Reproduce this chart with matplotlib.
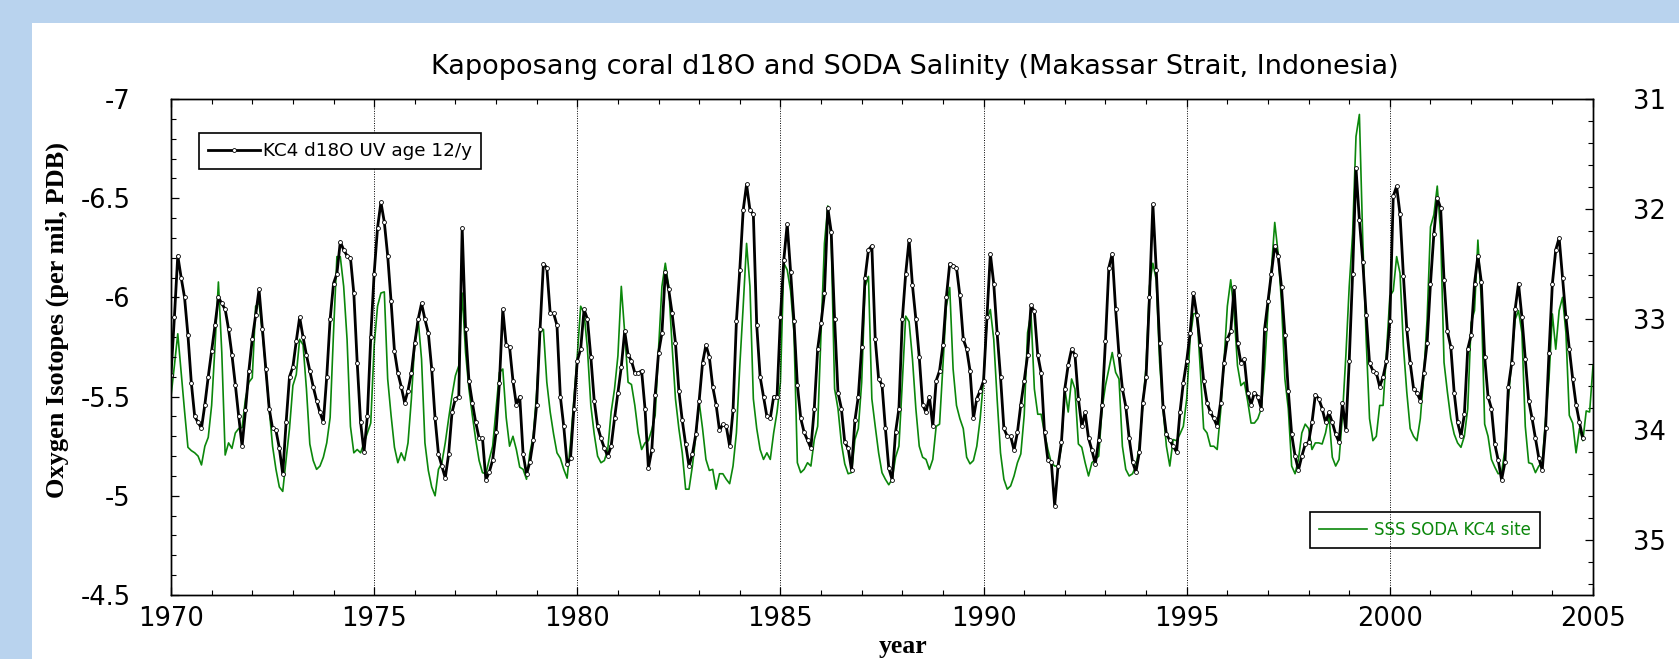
import numpy as np
import matplotlib
matplotlib.use('Agg')
import matplotlib.pyplot as plt
from matplotlib.ticker import MultipleLocator
from matplotlib.patches import Rectangle

plt.rcParams['font.family'] = ['DejaVu Sans']
plt.rcParams['axes.unicode_minus'] = False

# monthly series starting Jan 1970, one row per year
start_year = 1970

d18o = [
    -5.61, -5.90, -6.21, -6.10, -6.00, -5.81, -5.57, -5.40, -5.37, -5.34, -5.46, -5.60,
    -5.73, -5.86, -6.00, -5.97, -5.94, -5.84, -5.71, -5.56, -5.40, -5.25, -5.43, -5.63,
    -5.79, -5.91, -6.04, -5.84, -5.64, -5.44, -5.34, -5.33, -5.24, -5.11, -5.37, -5.60,
    -5.65, -5.78, -5.90, -5.80, -5.71, -5.63, -5.55, -5.48, -5.42, -5.37, -5.60, -5.89,
    -6.07, -6.12, -6.28, -6.24, -6.21, -6.20, -6.02, -5.67, -5.37, -5.22, -5.40, -5.80,
    -6.12, -6.35, -6.48, -6.38, -6.21, -5.98, -5.73, -5.62, -5.55, -5.47, -5.53, -5.62,
    -5.77, -5.89, -5.97, -5.89, -5.82, -5.64, -5.39, -5.21, -5.15, -5.09, -5.21, -5.42,
    -5.49, -5.50, -6.35, -5.84, -5.58, -5.47, -5.37, -5.29, -5.29, -5.08, -5.12, -5.18,
    -5.32, -5.57, -5.94, -5.76, -5.75, -5.58, -5.46, -5.50, -5.21, -5.11, -5.17, -5.28,
    -5.46, -5.84, -6.17, -6.15, -5.92, -5.92, -5.86, -5.50, -5.35, -5.16, -5.19, -5.44,
    -5.68, -5.74, -5.94, -5.89, -5.70, -5.48, -5.35, -5.29, -5.24, -5.20, -5.25, -5.39,
    -5.52, -5.65, -5.83, -5.71, -5.68, -5.62, -5.62, -5.63, -5.44, -5.14, -5.23, -5.51,
    -5.72, -5.82, -6.13, -6.04, -5.92, -5.77, -5.53, -5.38, -5.26, -5.15, -5.21, -5.31,
    -5.48, -5.67, -5.76, -5.70, -5.55, -5.46, -5.33, -5.36, -5.35, -5.25, -5.43, -5.88,
    -6.14, -6.44, -6.57, -6.44, -6.42, -5.86, -5.60, -5.50, -5.40, -5.39, -5.50, -5.50,
    -5.90, -6.19, -6.37, -6.13, -5.88, -5.56, -5.39, -5.32, -5.28, -5.24, -5.44, -5.74,
    -5.87, -6.02, -6.45, -6.33, -5.89, -5.52, -5.44, -5.27, -5.24, -5.13, -5.38, -5.50,
    -5.75, -6.10, -6.24, -6.26, -5.79, -5.59, -5.56, -5.34, -5.14, -5.08, -5.32, -5.44,
    -5.89, -6.12, -6.29, -6.06, -5.89, -5.70, -5.46, -5.42, -5.50, -5.35, -5.58, -5.63,
    -5.76, -6.00, -6.17, -6.16, -6.15, -6.01, -5.79, -5.74, -5.63, -5.39, -5.49, -5.53,
    -5.58, -5.90, -6.22, -6.07, -5.82, -5.60, -5.34, -5.30, -5.30, -5.23, -5.32, -5.46,
    -5.58, -5.71, -5.96, -5.93, -5.71, -5.62, -5.32, -5.18, -5.17, -4.95, -5.15, -5.27,
    -5.54, -5.66, -5.74, -5.71, -5.49, -5.35, -5.42, -5.29, -5.23, -5.16, -5.28, -5.46,
    -5.78, -6.15, -6.22, -5.94, -5.71, -5.54, -5.45, -5.29, -5.17, -5.12, -5.22, -5.47,
    -5.60, -6.00, -6.47, -6.14, -5.77, -5.45, -5.31, -5.28, -5.25, -5.22, -5.42, -5.57,
    -5.68, -5.82, -6.02, -5.91, -5.76, -5.58, -5.47, -5.42, -5.39, -5.35, -5.47, -5.67,
    -5.79, -5.83, -6.05, -5.77, -5.67, -5.69, -5.52, -5.46, -5.52, -5.50, -5.44, -5.84,
    -5.98, -6.12, -6.26, -6.21, -6.05, -5.81, -5.53, -5.31, -5.20, -5.13, -5.20, -5.26,
    -5.27, -5.37, -5.51, -5.49, -5.44, -5.37, -5.42, -5.37, -5.31, -5.27, -5.47, -5.33,
    -5.68, -6.12, -6.65, -6.39, -6.18, -5.91, -5.67, -5.63, -5.62, -5.55, -5.60, -5.68,
    -5.88, -6.51, -6.56, -6.42, -6.11, -5.84, -5.67, -5.54, -5.52, -5.48, -5.62, -5.77,
    -6.07, -6.32, -6.50, -6.45, -6.09, -5.83, -5.75, -5.52, -5.37, -5.30, -5.41, -5.74,
    -5.81, -6.07, -6.21, -6.08, -5.70, -5.50, -5.44, -5.26, -5.18, -5.08, -5.17, -5.55,
    -5.67, -5.94, -6.07, -5.90, -5.69, -5.48, -5.39, -5.29, -5.19, -5.13, -5.34, -5.72,
    -6.07, -6.24, -6.30, -6.10, -5.90, -5.74, -5.59, -5.46, -5.37, -5.29,
]

sss = [
    33.70, 33.42, 33.13, 33.48, 33.83, 34.16, 34.19, 34.21, 34.24, 34.32, 34.15, 34.07,
    33.78, 33.24, 32.66, 33.30, 34.23, 34.12, 34.17, 34.03, 33.99, 33.98, 33.72, 33.57,
    33.53, 32.88, 32.85, 33.12, 33.45, 33.81, 34.15, 34.36, 34.52, 34.56, 34.27, 33.99,
    33.60, 33.50, 33.18, 33.23, 33.63, 34.13, 34.28, 34.36, 34.33, 34.25, 34.12, 33.89,
    33.12, 32.43, 32.43, 32.70, 33.18, 33.97, 34.21, 34.18, 34.21, 34.12, 34.03, 33.94,
    33.24, 32.88, 32.76, 32.75, 33.54, 33.87, 34.16, 34.30, 34.21, 34.28, 34.12, 33.72,
    33.21, 33.00, 33.36, 34.12, 34.37, 34.52, 34.60, 34.36, 34.30, 34.12, 33.90, 33.69,
    33.51, 33.42, 32.76, 33.30, 33.63, 33.87, 34.09, 34.28, 34.39, 34.40, 34.27, 34.15,
    33.81, 33.48, 33.45, 33.89, 34.15, 34.06, 34.18, 34.34, 34.36, 34.45, 34.21, 34.06,
    33.66, 33.12, 33.09, 33.57, 33.84, 34.04, 34.21, 34.26, 34.36, 34.44, 34.12, 33.72,
    33.33, 32.88, 32.94, 33.27, 33.78, 34.04, 34.24, 34.30, 34.28, 34.18, 33.84, 33.63,
    33.33, 32.70, 33.12, 33.57, 33.59, 33.78, 34.03, 34.18, 34.12, 34.10, 34.00, 33.87,
    33.27, 32.70, 32.49, 32.70, 33.24, 33.72, 33.99, 34.21, 34.54, 34.54, 34.33, 34.06,
    33.75, 33.99, 34.27, 34.37, 34.36, 34.54, 34.40, 34.40, 34.45, 34.49, 34.33, 34.03,
    33.42, 32.88, 32.31, 32.70, 33.72, 33.99, 34.18, 34.27, 34.21, 34.27, 34.03, 33.84,
    33.57, 32.49, 32.55, 32.74, 33.12, 34.30, 34.39, 34.36, 34.30, 34.33, 34.09, 33.97,
    33.12, 32.31, 31.97, 32.28, 33.63, 33.81, 34.12, 34.31, 34.40, 34.39, 34.09, 33.99,
    33.57, 32.70, 32.61, 33.72, 33.97, 34.21, 34.39, 34.45, 34.50, 34.45, 34.25, 34.15,
    33.57, 32.97, 33.02, 33.36, 33.81, 34.15, 34.25, 34.27, 34.36, 34.27, 33.97, 33.95,
    33.42, 32.88, 32.71, 33.45, 33.78, 33.90, 33.99, 34.25, 34.31, 34.28, 34.15, 33.90,
    33.54, 33.00, 32.91, 33.18, 33.72, 34.21, 34.45, 34.54, 34.51, 34.42, 34.30, 34.22,
    33.87, 33.12, 32.94, 33.63, 33.86, 33.86, 34.03, 34.18, 34.30, 34.33, 34.33, 34.15,
    33.63, 33.84, 33.54, 33.63, 34.13, 34.16, 34.30, 34.42, 34.30, 34.27, 34.24, 33.81,
    33.60, 33.45, 33.30, 33.48, 33.54, 34.15, 34.36, 34.42, 34.40, 34.33, 34.15, 33.78,
    33.42, 32.70, 32.49, 32.64, 33.39, 33.81, 34.15, 34.33, 34.09, 34.10, 34.04, 33.97,
    33.72, 33.18, 32.95, 32.94, 33.45, 33.99, 34.03, 34.15, 34.15, 34.18, 33.84, 33.39,
    32.88, 32.64, 32.94, 33.42, 33.60, 33.57, 33.74, 33.94, 33.94, 33.90, 33.81, 33.45,
    32.91, 32.55, 32.12, 32.40, 32.85, 33.54, 33.81, 34.33, 34.40, 34.27, 34.03, 33.95,
    33.99, 34.18, 34.12, 34.12, 34.13, 34.03, 33.87, 34.25, 34.33, 34.27, 33.87, 33.33,
    32.70, 32.22, 31.34, 31.14, 32.28, 33.18, 33.90, 34.10, 34.06, 33.78, 33.78, 33.30,
    32.79, 32.74, 32.43, 32.58, 33.24, 33.66, 33.99, 34.06, 34.10, 33.90, 33.51, 33.00,
    32.16, 32.05, 31.79, 32.22, 33.39, 33.66, 33.90, 34.04, 34.12, 34.16, 34.06, 33.81,
    33.03, 32.92, 32.28, 32.82, 33.95, 34.06, 34.27, 34.34, 34.40, 34.39, 34.18, 33.72,
    33.36, 33.00, 32.92, 33.12, 33.97, 34.30, 34.31, 34.39, 34.33, 34.30, 33.90, 33.54,
    32.95, 33.27, 32.92, 32.80, 33.12, 33.87, 33.94, 34.21, 33.99, 34.10, 33.83, 33.84,
    33.42,
]

year_ticks = [1970, 1975, 1980, 1985, 1990, 1995, 2000, 2005]
d18o_ticks = [-7, -6.5, -6, -5.5, -5, -4.5]
d18o_labels = ['-7', '-6.5', '-6', '-5.5', '-5', '-4.5']
sss_ticks = [31, 32, 33, 34, 35]

title = 'Kapoposang coral d18O and SODA Salinity (Makassar Strait, Indonesia)'
green = '#0b870b'

t_d18o = start_year + np.arange(len(d18o)) / 12.0
t_sss = start_year + np.arange(len(sss)) / 12.0

W, H = 1679, 659
fig = plt.figure(figsize=(W / 100, H / 100), dpi=100)
fig.patch.set_facecolor('#b9d3ee')
fig.patches.append(Rectangle((32 / W, 0), 1 - 32 / W, (H - 23) / H,
                             transform=fig.transFigure, facecolor='white',
                             edgecolor='none', zorder=-5))

ax = fig.add_axes([171 / W, 1 - 595 / H, (1593 - 171) / W, (595 - 99) / H])
ax2 = ax.twinx()
ax.set_zorder(ax2.get_zorder() + 1)
ax.patch.set_visible(False)
ax2.patch.set_facecolor('white')

l2, = ax2.plot(t_sss, sss, color=green, lw=1.2, label='SSS SODA KC4 site')
l1, = ax.plot(t_d18o, d18o, '-o', color='black', lw=2.0, ms=2.8,
              mfc='white', mec='black', mew=0.6, label='KC4 d18O UV age 12/y')

ax.set_xlim(1970, 2005)
ax.set_ylim(-4.5, -7)
ax2.set_ylim(35.5, 31)

ax.set_xticks(year_ticks)
ax.set_xticklabels([str(y) for y in year_ticks])
ax.xaxis.set_minor_locator(MultipleLocator(1))
ax.set_yticks(d18o_ticks)
ax.set_yticklabels(d18o_labels)
ax.yaxis.set_minor_locator(MultipleLocator(0.1))
ax2.set_yticks(sss_ticks)
ax2.set_yticklabels([str(s) for s in sss_ticks])
ax2.yaxis.set_minor_locator(MultipleLocator(0.2))

ax.tick_params(axis='x', which='both', direction='in', top=True, bottom=True,
               labelsize=18.5, pad=8)
ax.tick_params(axis='y', which='both', direction='in', left=True, right=False,
               labelsize=18.5, pad=29)
ax2.tick_params(axis='y', which='both', direction='in', labelsize=18.5, pad=29)
for a in (ax, ax2):
    a.tick_params(which='major', length=6, width=0.9)
    a.tick_params(which='minor', length=3.6, width=0.8)
    for s in a.spines.values():
        s.set_linewidth(1.0)

ax.xaxis.grid(True, which='major', color='black', linestyle=(0, (1, 1.5)), linewidth=0.7)

fig.text(915 / W, 1 - 67 / H, title, ha='center', va='center', fontsize=19.5)
fig.text(57 / W, 1 - 320 / H, 'Oxygen Isotopes (per mil, PDB)', rotation=90,
         family='Liberation Serif', weight='bold', fontsize=19,
         ha='center', va='center')
fig.text(903 / W, 1 - 646 / H, 'year', family='Liberation Serif', weight='bold',
         fontsize=18.5, ha='center', va='center')

leg1 = ax.legend(handles=[l1], loc='upper left',
                 bbox_to_anchor=((199 - 171) / 1422, (595 - 133) / 496),
                 borderaxespad=0, fancybox=False, edgecolor='black', framealpha=1,
                 fontsize=13.2, handlelength=2.8, handletextpad=0.2, borderpad=0.5)
leg1.get_frame().set_linewidth(1.2)

leg2 = ax2.legend(handles=[l2], loc='lower right',
                  bbox_to_anchor=((1540 - 171) / 1422, (595 - 548) / 496),
                  borderaxespad=0, fancybox=False, edgecolor='black', framealpha=1,
                  fontsize=12, handlelength=2.9, handletextpad=0.4, borderpad=0.55,
                  labelcolor=green)
leg2.get_frame().set_linewidth(1.2)

fig.savefig('out.png', dpi=100, facecolor=fig.get_facecolor())
